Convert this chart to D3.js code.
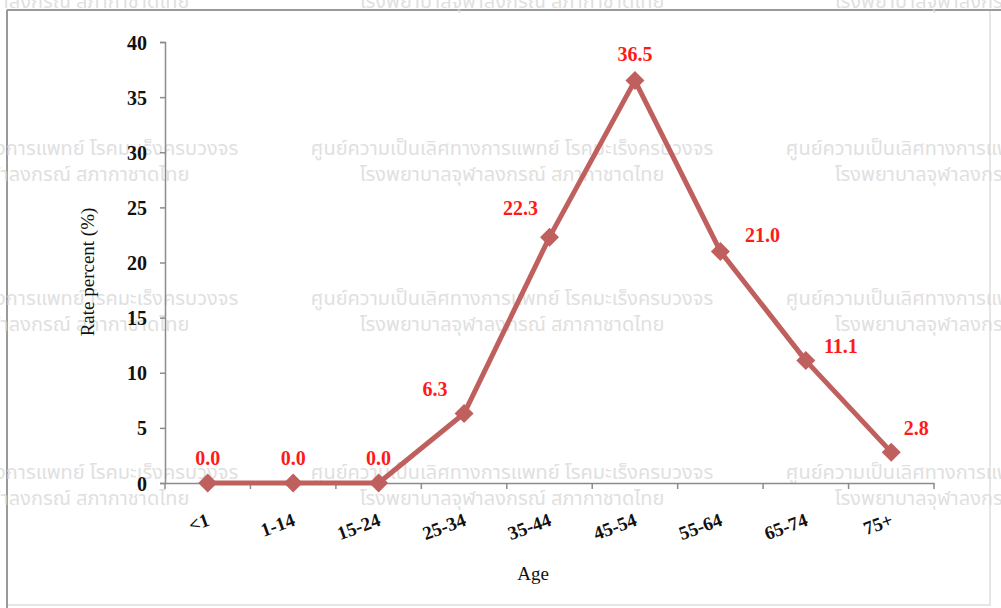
<!DOCTYPE html>
<html>
<head>
<meta charset="utf-8">
<script src="https://cdn.jsdelivr.net/npm/d3@7"></script>
<style>
  body { margin: 0; background: #fff; }
  svg { display: block; }
</style>
</head>
<body>
<svg id="chart"></svg>
<script>
// données
var ageGroups = ["<1", "1-14", "15-24", "25-34", "35-44", "45-54", "55-64", "65-74", "75+"];
var rates = [0.0, 0.0, 0.0, 6.3, 22.3, 36.5, 21.0, 11.1, 2.8];
var yTicks = [0, 5, 10, 15, 20, 25, 30, 35, 40];
var watermarkLines = ["ศูนย์ความเป็นเลิศทางการแพทย์ โรคมะเร็งครบวงจร", "โรงพยาบาลจุฬาลงกรณ์ สภากาชาดไทย"];

// décalage des étiquettes (placement seulement)
var labelShift = [[0, -25], [0, -25], [0, -25], [-29, -25], [-29, -29], [0, -27], [42, -16], [35, -15], [25, -24]];

var W = 1001, H = 608;
var svg = d3.select("#chart").attr("width", W).attr("height", H);
var margin = {top: 42, left: 165, right: 67, bottom: 125};
var x0 = margin.left, x1 = W - margin.right, y0 = H - margin.bottom, y1 = margin.top;

// cadre
svg.append("rect").attr("x", 7).attr("y", 10).attr("width", 983).attr("height", 595)
    .attr("fill", "#fff").attr("stroke", "#e6e6e6").attr("stroke-width", 2);
svg.append("line").attr("x1", 7).attr("x2", W).attr("y1", 10).attr("y2", 10)
    .attr("stroke", "#9a9a9a").attr("stroke-width", 2);
svg.append("line").attr("x1", 7).attr("x2", 7).attr("y1", 10).attr("y2", H)
    .attr("stroke", "#9a9a9a").attr("stroke-width", 2);

var x = d3.scaleBand().domain(ageGroups).range([x0, x1]);
var y = d3.scaleLinear().domain([0, 40]).range([y0, y1]);

// filigrane
var wm = svg.append("g").style("font", "20px 'Noto Sans Thai', 'Noto Sans', sans-serif")
    .attr("fill", "#d6d6d6").attr("opacity", 0.75);
[-25, 148, 298, 472].forEach(function(ry) {
    [37, 512, 987].forEach(function(cx) {
        watermarkLines.forEach(function(t, i) {
            wm.append("text").attr("x", cx).attr("y", ry + i * 26 + 7)
                .attr("text-anchor", "middle").text(t);
        });
    });
});

var g = svg.append("g");

// axe y
var yAxis = g.append("g").attr("transform", "translate(" + x0 + ",0)")
    .call(d3.axisLeft(y).tickValues(yTicks).tickSize(5).tickPadding(13));
// axe x
var xAxis = g.append("g").attr("transform", "translate(0," + y0 + ")")
    .call(d3.axisBottom(x).tickSize(0).tickFormat(""));
[x0].concat(ageGroups.map(function(d) { return x(d) + x.bandwidth(); })).forEach(function(px) {
    xAxis.append("line").attr("x1", px).attr("x2", px).attr("y1", 0).attr("y2", 6)
        .attr("stroke", "#8c8c8c").attr("stroke-width", 1.5);
});
g.selectAll(".domain").attr("stroke", "#8c8c8c").attr("stroke-width", 1.5);
yAxis.selectAll(".tick line").attr("stroke", "#8c8c8c").attr("stroke-width", 1.5);
yAxis.selectAll("text").style("font", "bold 20px 'Liberation Serif', serif").attr("fill", "#111").attr("dy", "0.35em");

// étiquettes x inclinées
g.append("g").selectAll("text").data(ageGroups).enter().append("text")
    .attr("transform", function(d) {
        return "translate(" + (x(d) + x.bandwidth() / 2 + 3) + "," + (y0 + 42) + ") rotate(-20)";
    })
    .attr("text-anchor", "end")
    .style("font", "bold 19px 'Liberation Serif', serif")
    .attr("fill", "#111")
    .text(function(d) { return d; });

// titres des axes
svg.append("text").attr("transform", "translate(94,272) rotate(-90)")
    .attr("text-anchor", "middle")
    .style("font", "19px 'Liberation Serif', serif").attr("fill", "#111")
    .text("Rate percent (%)");
svg.append("text").attr("x", 533).attr("y", 580).attr("text-anchor", "middle")
    .style("font", "19px 'Liberation Serif', serif").attr("fill", "#111")
    .text("Age");

// courbe
var line = d3.line()
    .x(function(d, i) { return x(ageGroups[i]) + x.bandwidth() / 2; })
    .y(function(d) { return y(d); });
g.append("path").datum(rates).attr("d", line)
    .attr("fill", "none").attr("stroke", "#c0605e").attr("stroke-width", 5)
    .attr("stroke-linejoin", "round");

g.selectAll(".pt").data(rates).enter().append("path")
    .attr("class", "pt")
    .attr("d", d3.symbol().type(d3.symbolDiamond2).size(230))
    .attr("transform", function(d, i) {
        return "translate(" + (x(ageGroups[i]) + x.bandwidth() / 2) + "," + y(d) + ")";
    })
    .attr("fill", "#c0605e");

g.selectAll(".lbl").data(rates).enter().append("text")
    .attr("class", "lbl")
    .attr("x", function(d, i) { return x(ageGroups[i]) + x.bandwidth() / 2 + labelShift[i][0]; })
    .attr("y", function(d, i) { return y(d) + labelShift[i][1]; })
    .attr("dy", "0.35em")
    .attr("text-anchor", "middle")
    .style("font", "bold 20px 'Liberation Serif', serif")
    .attr("fill", "#ff1a1a")
    .text(function(d) { return d.toFixed(1); });
</script>
</body>
</html>
